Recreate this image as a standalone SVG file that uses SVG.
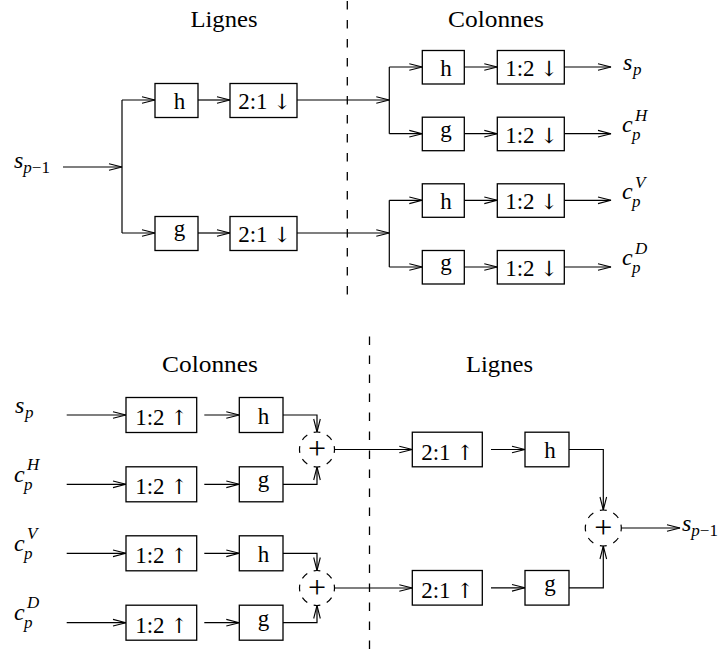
<svg xmlns="http://www.w3.org/2000/svg" width="727" height="651" viewBox="0 0 727 651" font-family="Liberation Serif, DejaVu Serif, serif">
<defs>
<marker id="arr" markerUnits="userSpaceOnUse" markerWidth="16" markerHeight="10" viewBox="-15 -5 16 10" refX="0" refY="0" orient="auto">
<path d="M-13,-3.3 L0,0 L-13,3.3" fill="none" stroke="#000" stroke-width="1.1"/>
</marker>
</defs>
<style>
.box{fill:#fff;stroke:#000;stroke-width:1.3}
.ln{fill:none;stroke:#000;stroke-width:1.2;marker-end:url(#arr)}
.pl{fill:none;stroke:#000;stroke-width:1.2}
.dash{fill:none;stroke:#000;stroke-width:1.3;stroke-dasharray:8.5 10.5}
.t{font-family:"Liberation Serif","DejaVu Serif",serif;font-size:23px;fill:#000;text-anchor:middle}
.ti{font-family:"Liberation Serif","DejaVu Serif",serif;font-size:24px;fill:#000;text-anchor:middle}
.m{font-family:"Liberation Serif","DejaVu Serif",serif;font-style:italic;font-size:24px;fill:#000}
.s{font-size:17px}
.up{font-style:normal}
.ar{font-family:"DejaVu Serif",serif;font-size:21px}
.pls{font-family:"Liberation Serif","DejaVu Serif",serif;font-size:32px;fill:#000;text-anchor:middle}
.sum{fill:none;stroke:#000;stroke-width:1.2;stroke-dasharray:5 5;stroke-dashoffset:2.5}
</style>

<!-- titles -->
<g id="titles">
<text class="ti" x="224" y="27" textLength="67" lengthAdjust="spacingAndGlyphs">Lignes</text>
<text class="ti" x="496" y="27" textLength="96" lengthAdjust="spacingAndGlyphs">Colonnes</text>
<text class="ti" x="210" y="372" textLength="96" lengthAdjust="spacingAndGlyphs">Colonnes</text>
<text class="ti" x="499.5" y="372" textLength="67" lengthAdjust="spacingAndGlyphs">Lignes</text>
</g>

<!-- separators -->
<g id="separators">
<path class="dash" d="M347.3,1 V300"/>
<path class="dash" d="M369.5,336.5 V651"/>
</g>

<!-- connectors -->
<g id="connectors">
<path class="ln" d="M63,167 H122"/>
<path class="pl" d="M122,100 V233"/>
<path class="ln" d="M122,100 H155"/>
<path class="ln" d="M122,233 H155"/>
<path class="ln" d="M198,100 H230"/>
<path class="ln" d="M198,233 H230"/>
<path class="ln" d="M297,100 H389.3"/>
<path class="ln" d="M297,233 H389.3"/>
<path class="pl" d="M389.3,67 V133.7"/>
<path class="pl" d="M389.3,200.3 V267"/>
<path class="ln" d="M389.3,67 H422.3"/>
<path class="ln" d="M389.3,133.7 H422.3"/>
<path class="ln" d="M389.3,200.3 H422.3"/>
<path class="ln" d="M389.3,267 H422.3"/>
<path class="ln" d="M464.3,67 H497.3"/>
<path class="ln" d="M464.3,133.7 H497.3"/>
<path class="ln" d="M464.3,200.3 H497.3"/>
<path class="ln" d="M464.3,267 H497.3"/>
<path class="ln" d="M564.3,67 H611"/>
<path class="ln" d="M564.3,133.7 H611"/>
<path class="ln" d="M564.3,200.3 H611"/>
<path class="ln" d="M564.3,267 H611"/>

<path class="ln" d="M66.7,415 H126"/>
<path class="ln" d="M66.7,484.3 H126"/>
<path class="ln" d="M66.7,553.3 H126"/>
<path class="ln" d="M66.7,622.7 H126"/>
<path class="ln" d="M204.3,415 H239.3"/>
<path class="ln" d="M204.3,484.3 H239.3"/>
<path class="ln" d="M204.3,553.3 H239.3"/>
<path class="ln" d="M204.3,622.7 H239.3"/>
<path class="ln" d="M283,415 H317 V432"/>
<path class="ln" d="M283,484.3 H317 V467"/>
<path class="ln" d="M283,553.3 H317 V570.5"/>
<path class="ln" d="M283,622.7 H317 V605.5"/>
<path class="ln" d="M334.5,449.5 H412.3"/>
<path class="ln" d="M334.5,588 H412.3"/>
<path class="ln" d="M491,449.5 H525"/>
<path class="ln" d="M491,587.8 H525"/>
<path class="ln" d="M569,449.5 H603.3 V510"/>
<path class="ln" d="M569,587.8 H603.3 V546"/>
<path class="ln" d="M621.3,528 H680"/>
</g>

<!-- input / output labels -->
<g id="label-in-top"><text class="m" x="14" y="168">s<tspan class="s" dy="5">p</tspan><tspan class="s up">−1</tspan></text></g>
<g id="label-sp-top"><text class="m" x="623" y="70">s<tspan class="s" x="633" y="75">p</tspan></text></g>
<g id="label-cH-top"><text class="m" x="622" y="132">c<tspan class="s" x="632" y="140">p</tspan><tspan class="s" x="635" y="121">H</tspan></text></g>
<g id="label-cV-top"><text class="m" x="622" y="198.5">c<tspan class="s" x="632" y="206.5">p</tspan><tspan class="s" x="635" y="187.5">V</tspan></text></g>
<g id="label-cD-top"><text class="m" x="622" y="265">c<tspan class="s" x="632" y="273">p</tspan><tspan class="s" x="635" y="254">D</tspan></text></g>

<g id="label-sp-bot"><text class="m" x="15" y="413">s<tspan class="s" x="25" y="418">p</tspan></text></g>
<g id="label-cH-bot"><text class="m" x="14" y="481.5">c<tspan class="s" x="24" y="489.5">p</tspan><tspan class="s" x="27" y="469.5">H</tspan></text></g>
<g id="label-cV-bot"><text class="m" x="14" y="550.5">c<tspan class="s" x="24" y="558.5">p</tspan><tspan class="s" x="27" y="538.5">V</tspan></text></g>
<g id="label-cD-bot"><text class="m" x="14" y="620">c<tspan class="s" x="24" y="628">p</tspan><tspan class="s" x="27" y="608">D</tspan></text></g>
<g id="label-out-bot"><text class="m" x="682" y="531">s<tspan class="s" dy="5">p</tspan><tspan class="s up">−1</tspan></text></g>

<!-- analysis: top -->
<g id="h-row"><rect class="box" x="155" y="83.5" width="43" height="34"/><text class="t" x="179.5" y="108.5">h</text></g>
<g id="g-row"><rect class="box" x="155" y="216.5" width="43" height="34"/><text class="t" x="179.5" y="236">g</text></g>
<g id="down-row-h"><rect class="box" x="230" y="83.5" width="67" height="34"/><text class="t" x="264.5" y="109">2:1 <tspan class="ar">↓</tspan></text></g>
<g id="down-row-g"><rect class="box" x="230" y="216.5" width="67" height="34"/><text class="t" x="264.5" y="242">2:1 <tspan class="ar">↓</tspan></text></g>

<g id="h-col-1"><rect class="box" x="422.3" y="50.5" width="42" height="33.5"/><text class="t" x="446" y="75.5">h</text></g>
<g id="g-col-1"><rect class="box" x="422.3" y="117.2" width="42" height="33.5"/><text class="t" x="446" y="136.7">g</text></g>
<g id="h-col-2"><rect class="box" x="422.3" y="183.8" width="42" height="33.5"/><text class="t" x="446" y="208.8">h</text></g>
<g id="g-col-2"><rect class="box" x="422.3" y="250.5" width="42" height="33.5"/><text class="t" x="446" y="270">g</text></g>
<g id="down-col-1"><rect class="box" x="497.3" y="50.5" width="67" height="33.5"/><text class="t" x="531.5" y="76">1:2 <tspan class="ar">↓</tspan></text></g>
<g id="down-col-2"><rect class="box" x="497.3" y="117.2" width="67" height="33.5"/><text class="t" x="531.5" y="142.7">1:2 <tspan class="ar">↓</tspan></text></g>
<g id="down-col-3"><rect class="box" x="497.3" y="183.8" width="67" height="33.5"/><text class="t" x="531.5" y="209.3">1:2 <tspan class="ar">↓</tspan></text></g>
<g id="down-col-4"><rect class="box" x="497.3" y="250.5" width="67" height="33.5"/><text class="t" x="531.5" y="276">1:2 <tspan class="ar">↓</tspan></text></g>

<!-- synthesis: bottom -->
<g id="up-col-1"><rect class="box" x="126" y="397.5" width="70.7" height="35"/><text class="t" x="161.5" y="425">1:2 <tspan class="ar">↑</tspan></text></g>
<g id="up-col-2"><rect class="box" x="126" y="466.8" width="70.7" height="35"/><text class="t" x="161.5" y="494.3">1:2 <tspan class="ar">↑</tspan></text></g>
<g id="up-col-3"><rect class="box" x="126" y="535.8" width="70.7" height="35"/><text class="t" x="161.5" y="563.3">1:2 <tspan class="ar">↑</tspan></text></g>
<g id="up-col-4"><rect class="box" x="126" y="605.2" width="70.7" height="35"/><text class="t" x="161.5" y="632.7">1:2 <tspan class="ar">↑</tspan></text></g>
<g id="h-syn-1"><rect class="box" x="239.3" y="397.5" width="43.7" height="35"/><text class="t" x="263.5" y="423.5">h</text></g>
<g id="g-syn-1"><rect class="box" x="239.3" y="466.8" width="43.7" height="35"/><text class="t" x="263.5" y="487.3">g</text></g>
<g id="h-syn-2"><rect class="box" x="239.3" y="535.8" width="43.7" height="35"/><text class="t" x="263.5" y="561.8">h</text></g>
<g id="g-syn-2"><rect class="box" x="239.3" y="605.2" width="43.7" height="35"/><text class="t" x="263.5" y="625.7">g</text></g>

<g id="sum-1"><circle class="sum" cx="317" cy="449.5" r="17.5" pathLength="80"/><text class="pls" x="317" y="459">+</text></g>
<g id="sum-2"><circle class="sum" cx="317" cy="588" r="17.5" pathLength="80"/><text class="pls" x="317" y="597.5">+</text></g>

<g id="up-row-1"><rect class="box" x="412.3" y="432.2" width="70" height="34.6"/><text class="t" x="447.5" y="459.5">2:1 <tspan class="ar">↑</tspan></text></g>
<g id="up-row-2"><rect class="box" x="412.3" y="570.5" width="70" height="34.6"/><text class="t" x="447.5" y="597.8">2:1 <tspan class="ar">↑</tspan></text></g>
<g id="h-syn-row"><rect class="box" x="525" y="432.2" width="44" height="34.6"/><text class="t" x="550" y="458">h</text></g>
<g id="g-syn-row"><rect class="box" x="525" y="570.5" width="44" height="34.6"/><text class="t" x="550" y="590.8">g</text></g>

<g id="sum-3"><circle class="sum" cx="603.3" cy="528" r="18" pathLength="80"/><text class="pls" x="603.3" y="537.5">+</text></g>
</svg>
